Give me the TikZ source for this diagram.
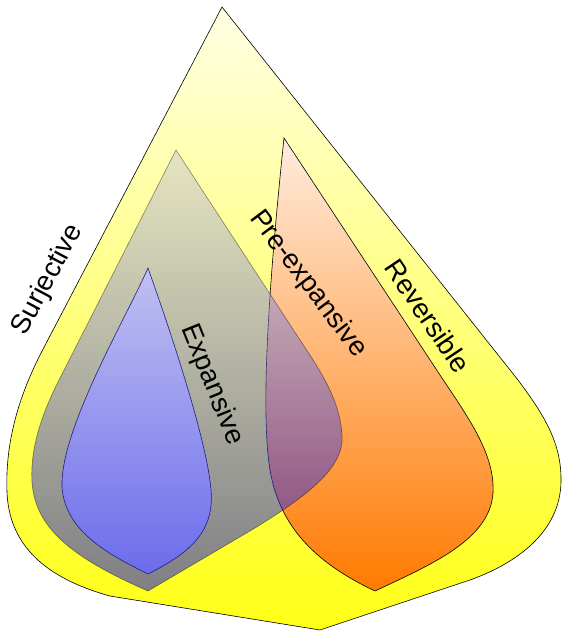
\documentclass[tikz,border=0pt]{standalone}
\usepackage{fontspec}
\setmainfont{Liberation Sans}
\definecolor{yelTop}{RGB}{255,255,228}
\definecolor{yelBot}{RGB}{255,255,20}
\definecolor{oraTop}{RGB}{255,236,222}
\definecolor{oraBot}{RGB}{255,122,0}
\definecolor{gryTop}{RGB}{205,205,205}
\definecolor{gryBot}{RGB}{0,0,234}
\definecolor{bluTop}{RGB}{192,192,242}
\definecolor{bluBot}{RGB}{108,108,236}
\definecolor{bluLine}{RGB}{30,30,130}
\begin{document}
\begin{tikzpicture}[x=1pt,y=-1pt,
  lbl/.style={font=\fontsize{27.5}{30}\selectfont, inner sep=0pt},
  region/.style={line width=0.6pt}]
\useasboundingbox (0,0) rectangle (562,631);
% Surjective
\draw[region, draw=black, top color=yelTop, bottom color=yelBot]
  (222,7) -- (40,355) .. controls (20,395) and (5,440) .. (7,492)
  .. controls (9,545) and (45,578) .. (110,596) -- (320,630) -- (470,580)
  .. controls (520,562) and (560,530) .. (561,482)
  .. controls (562,440) and (540,410) .. (518,380) -- cycle;
% Reversible
\draw[region, draw=black, top color=oraTop, bottom color=oraBot]
  (284,138) -- (440,375) .. controls (470,420) and (495,455) .. (493,493)
  .. controls (490,540) and (430,565) .. (375,591)
  .. controls (320,565) and (280,530) .. (270,470)
  .. controls (262,420) and (265,320) .. (284,138) -- cycle;
% Pre-expansive (translucent)
\draw[region, draw=black, draw opacity=0.45, top color=gryTop, bottom color=gryBot, fill opacity=0.5]
  (176,150) -- (58,382) .. controls (42,414) and (30,448) .. (32,482)
  .. controls (35,527) and (70,557) .. (148,591) -- (255,528)
  .. controls (300,500) and (345,470) .. (342,435)
  .. controls (340,400) and (320,370) .. (300,340) -- cycle;
% Expansive
\draw[region, draw=bluLine, top color=bluTop, bottom color=bluBot]
  (148,268) .. controls (125,320) and (60,430) .. (62,487)
  .. controls (65,532) and (110,555) .. (148,574)
  .. controls (185,555) and (215,535) .. (211,490)
  .. controls (207,440) and (170,330) .. (148,268) -- cycle;
% labels
\node[lbl, rotate=62] (sur) at (48,280) {Surjective};
\node[lbl, rotate=-68] (exp) at (212,385) {Expansive};
\node[lbl, rotate=-53] (pre) at (308,284) {Pre-expansive};
\node[lbl, rotate=-56] (rev) at (428,316) {Reversible};
\end{tikzpicture}
\end{document}
